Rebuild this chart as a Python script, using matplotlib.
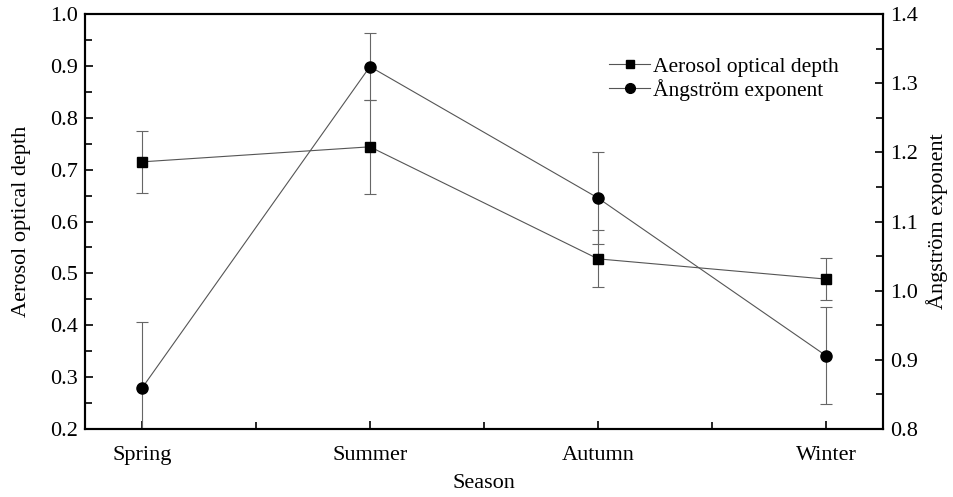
import numpy as np
import matplotlib
matplotlib.use('Agg')
import matplotlib.pyplot as plt
from matplotlib.ticker import MultipleLocator
from matplotlib.lines import Line2D

plt.rcParams['font.family'] = ['Liberation Serif', 'DejaVu Serif']
plt.rcParams['font.size'] = 16

seasons = ['Spring', 'Summer', 'Autumn', 'Winter']
aod = [0.715, 0.744, 0.528, 0.489]
aod_err = [0.060, 0.090, 0.055, 0.041]
alpha = [0.859, 1.324, 1.134, 0.906]
alpha_err = [0.096, 0.049, 0.066, 0.070]

x = np.arange(len(seasons))

fig, ax = plt.subplots(figsize=(9.54, 4.97), dpi=100)
fig.subplots_adjust(left=0.089, right=0.9256, top=0.9718, bottom=0.1368)
ax2 = ax.twinx()

ax.errorbar(x, aod, yerr=aod_err, fmt='-s', color='#555555', lw=0.8,
            mfc='black', mec='black', ms=7, ecolor='#666666',
            elinewidth=0.8, capsize=4, capthick=0.8)
ax2.errorbar(x, alpha, yerr=alpha_err, fmt='-o', color='#555555', lw=0.8,
             mfc='black', mec='black', ms=8, ecolor='#666666',
             elinewidth=0.8, capsize=4, capthick=0.8)

ax.set_xlim(-0.25, 3.25)
ax.set_ylim(0.2, 1.0)
ax2.set_ylim(0.8, 1.4)

ax.set_xticks(x)
ax.set_xticklabels(seasons)
ax.xaxis.set_minor_locator(MultipleLocator(0.5))
ax.yaxis.set_major_locator(MultipleLocator(0.1))
ax.yaxis.set_minor_locator(MultipleLocator(0.05))
ax2.yaxis.set_major_locator(MultipleLocator(0.1))
ax2.yaxis.set_minor_locator(MultipleLocator(0.05))

for a in (ax, ax2):
    for s in a.spines.values():
        s.set_linewidth(1.5)
    a.tick_params(which='both', direction='in', width=1.2, top=False)
    a.tick_params(which='major', length=6, pad=5)
    a.tick_params(which='minor', length=5)
ax.tick_params(axis='x', which='major', pad=12)

ax.yaxis.set_major_formatter(plt.FuncFormatter(lambda v, p: f'{v:.1f}'))
ax2.yaxis.set_major_formatter(plt.FuncFormatter(lambda v, p: f'{v:.1f}'))

ax.set_xlabel('Season', labelpad=7)
ax.set_ylabel('Aerosol optical depth', labelpad=14)
ax2.set_ylabel('Ångström exponent', labelpad=6)

h1 = Line2D([], [], color='#555555', lw=0.8, marker='s', ms=6, mfc='black', mec='black')
h2 = Line2D([], [], color='#555555', lw=0.8, marker='o', ms=7, mfc='black', mec='black')
ax.legend([h1, h2], ['Aerosol optical depth', 'Ångström exponent'],
          loc='upper left', bbox_to_anchor=(0.657, 0.897), frameon=False,
          fontsize=15.5, handlelength=1.9, handletextpad=0.15,
          labelspacing=0.1, borderaxespad=0, borderpad=0)

fig.savefig('out.png', dpi=100)
